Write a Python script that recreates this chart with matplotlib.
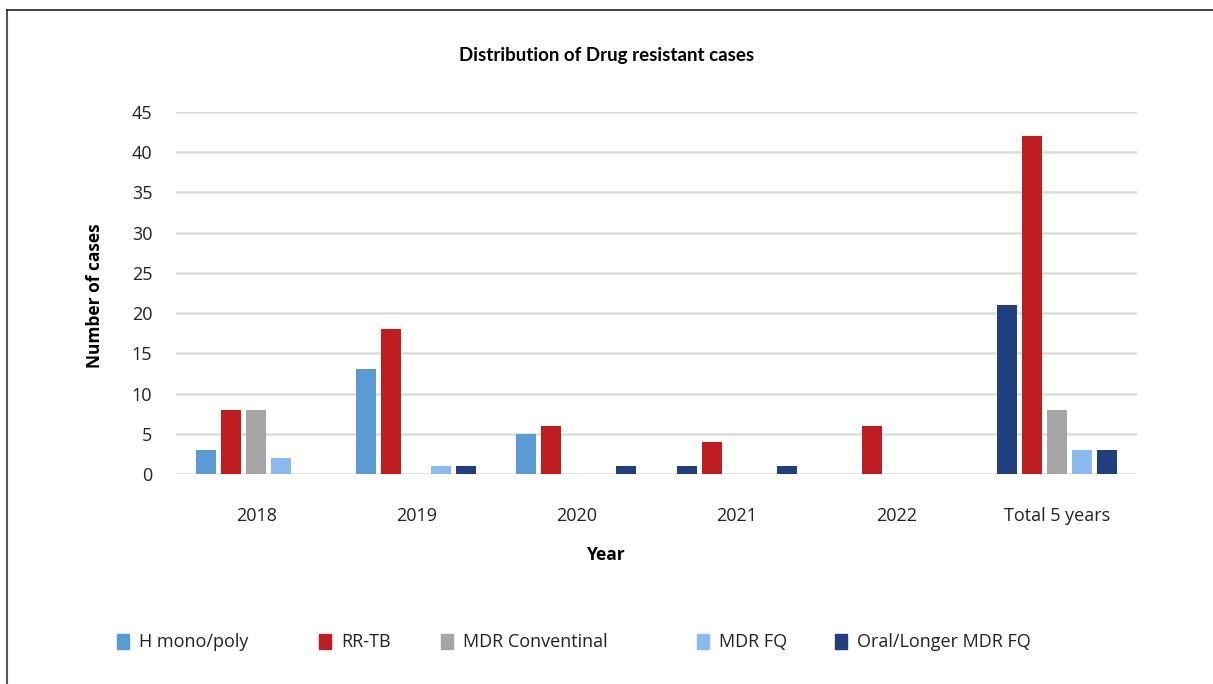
import numpy as np
import matplotlib.pyplot as plt
from matplotlib.patches import Rectangle
from matplotlib.lines import Line2D

plt.rcParams['font.family'] = ['Open Sans', 'DejaVu Sans']

# data
years = ['2018', '2019', '2020', '2021', '2022', 'Total 5 years']
series = ['H mono/poly', 'RR-TB', 'MDR Conventinal', 'MDR FQ', 'Oral/Longer MDR FQ']
h_mono = [3, 13, 5, 1, 0, 21]
rr_tb = [8, 18, 6, 4, 6, 42]
mdr_conv = [8, 0, 0, 0, 0, 8]
mdr_fq = [2, 1, 0, 0, 0, 3]
oral_mdr = [0, 1, 1, 1, 0, 3]

colors = ['#5B9BD5', '#BE1E22', '#A5A5A5', '#8BBBEE', '#1F3F7F']
# the source colours two of the H mono/poly points dark blue
h_mono_colors = [colors[0]] * 6
h_mono_colors[3] = colors[4]
h_mono_colors[5] = colors[4]

fig = plt.figure(figsize=(12.13, 6.84), dpi=100)
ax = fig.add_axes([0.1451, 0.307, 0.7922, 0.5292])

x = np.arange(len(years))
slot = 0.156
w = 0.125
all_vals = [h_mono, rr_tb, mdr_conv, mdr_fq, oral_mdr]
for i, vals in enumerate(all_vals):
    c = h_mono_colors if i == 0 else colors[i]
    ax.bar(x + (i - 2) * slot, vals, width=w, color=c, linewidth=0, zorder=3)

ax.set_xlim(-0.5, len(years) - 0.5)
ax.set_ylim(0, 45)
ax.set_yticks(np.arange(0, 46, 5))
ax.set_xticks(x)
ax.set_xticklabels(years)
ax.tick_params(length=0, labelsize=13, colors='#222222')
ax.tick_params(axis='y', pad=17)
ax.tick_params(axis='x', pad=24)
ax.grid(axis='y', color='#DDDDDD', linewidth=1.8, zorder=0)
for s in ax.spines.values():
    s.set_visible(False)

fig.text(0.5, 0.919, 'Distribution of Drug resistant cases', ha='center', va='center',
         fontsize=13.5, fontweight='bold', family=['Lato', 'DejaVu Sans'])
fig.text(0.078, 0.568, 'Number of cases', rotation=90, ha='center', va='center',
         fontsize=12.5, fontweight='bold')
fig.text(0.4995, 0.188, 'Year', ha='center', va='center', fontsize=12.5, fontweight='bold')

# legend, spaced like the source
leg_x = [117, 319, 441, 697, 835]
for px, lab, c in zip(leg_x, series, colors):
    fig.patches.append(Rectangle((px / 1213, (684 - 649) / 684), 12 / 1213, 15 / 684,
                                 transform=fig.transFigure, color=c))
    fig.text((px + 22) / 1213, (684 - 642) / 684, lab, ha='left', va='center',
             fontsize=13, color='#222222')

# frame lines at left and top
fig.add_artist(Line2D([7 / 1213, 7 / 1213], [0, 1 - 10 / 684], transform=fig.transFigure,
                      color='#555555', linewidth=1.5))
fig.add_artist(Line2D([7 / 1213, 1], [1 - 10 / 684, 1 - 10 / 684], transform=fig.transFigure,
                      color='#222222', linewidth=1.2))

fig.savefig('out.png', dpi=100)
